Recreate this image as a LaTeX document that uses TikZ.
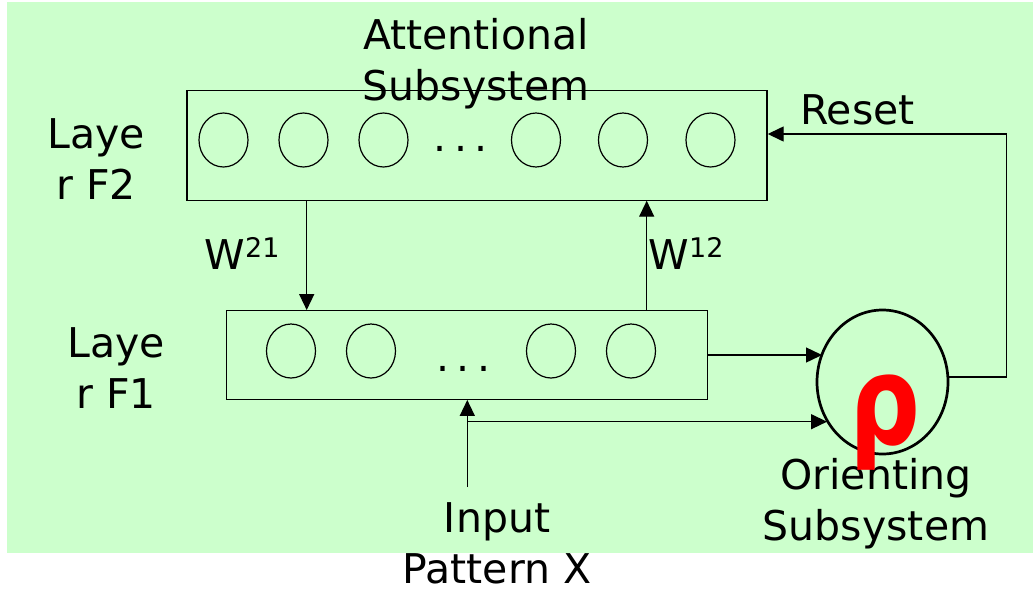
\documentclass[tikz,border=0pt]{standalone}
\usepackage{fontspec}
\setmainfont{DejaVu Sans}
\usetikzlibrary{arrows.meta,shapes.geometric}

\definecolor{paleGreen}{HTML}{CCFFCC}
\newcommand{\wsup}[1]{W\raisebox{12pt}{\fontsize{27}{27}\selectfont #1}}
\newcommand{\gap}{.\hspace{7.5pt}.\hspace{7.5pt}.}

\begin{document}
\begin{tikzpicture}[x=1pt, y=-1pt,
	layer/.style={rectangle, draw, line width=1.4pt, inner sep=0pt},
	unit/.style={ellipse, draw, line width=1.2pt, minimum width=49pt, minimum height=54pt, inner sep=0pt},
	lbl/.style={align=center, inner sep=0pt, font=\fontsize{41}{51}\selectfont},
	link/.style={line width=1.4pt, -{Triangle[length=16pt,width=15pt]}}]
	
	\useasboundingbox (0,0) rectangle (1036,590);
	\fill[paleGreen] (7,2) rectangle (1033,553);
	
	%Layers
	\node (F2Layer) at (477,145.5) [layer, minimum width=580pt, minimum height=110.5pt]{};
	\node (F1Layer) at (467,355) [layer, minimum width=480.5pt, minimum height=88.5pt]{};
	
	%Units of F2
	\node (F2Unit1) at (223.5,140) [unit]{};
	\node (F2Unit2) at (303.5,140) [unit]{};
	\node (F2Unit3) at (383.5,140) [unit]{};
	\node (F2Unit4) at (536,140) [unit]{};
	\node (F2Unit5) at (623,140) [unit]{};
	\node (F2Unit6) at (710.5,140) [unit]{};
	\node (F2Dots) at (461,151) [lbl, anchor=base]{\gap};
	
	%Units of F1
	\node (F1Unit1) at (291,351) [unit]{};
	\node (F1Unit2) at (371,351) [unit]{};
	\node (F1Unit3) at (551,351) [unit]{};
	\node (F1Unit4) at (631,351) [unit]{};
	\node (F1Dots) at (463.5,371) [lbl, anchor=base]{\gap};
	
	%Orienting subsystem
	\node (Orienting) at (882.5,382) [ellipse, draw, line width=2.7pt, minimum width=131pt,
	minimum height=144pt, inner sep=0pt]{};
	
	%Labels (base = last line)
	\node (AttnLabel) at (476,100) [lbl, anchor=base]{Attentional\\Subsystem};
	\node (F2Label) at (96,199) [lbl, anchor=base]{Laye\\r F2};
	\node (F1Label) at (116,408) [lbl, anchor=base]{Laye\\r F1};
	\node (ResetLabel) at (857.5,124) [lbl, anchor=base]{Reset};
	\node (W21Label) at (242,269) [lbl, anchor=base]{\wsup{21}};
	\node (W12Label) at (686,269) [lbl, anchor=base]{\wsup{12}};
	\node (OrientLabel) at (876,540) [lbl, anchor=base]{Orienting\\Subsystem};
	\node (InputLabel) at (497,583) [lbl, anchor=base]{Input\\Pattern X};
	
	%Links
	\coordinate (W21Top) at (306.7,200.7);
	\coordinate (W12Top) at (646.7,200.7);
	\coordinate (RhoIn1) at (822,355);
	\coordinate (RhoIn2) at (827,421.7);
	\coordinate (InputTail) at (467.3,487);
	\coordinate (InputFork) at (467.3,421.7);
	\coordinate (ResetOut) at (948,377);
	\coordinate (ResetTurn) at (1006.7,134);
	
	\draw[link] (W21Top) -- (W21Top |- F1Layer.north);
	\draw[link] (W12Top |- F1Layer.north) -- (W12Top);
	\draw[link] (F1Layer.east) -- (RhoIn1);
	\draw[link] (InputTail) -- (InputTail |- F1Layer.south);
	\draw[link] (InputFork) -- (RhoIn2);
	\draw[link] (ResetOut) -| (ResetTurn) -- (ResetTurn -| F2Layer.east);
	
	%Vigilance
	\node (Rho) at (884.5,444) [anchor=base, inner sep=0pt, text=red, xscale=0.8,
	font=\fontsize{124}{124}\selectfont\bfseries]{ρ};
	
\end{tikzpicture}
\end{document}
